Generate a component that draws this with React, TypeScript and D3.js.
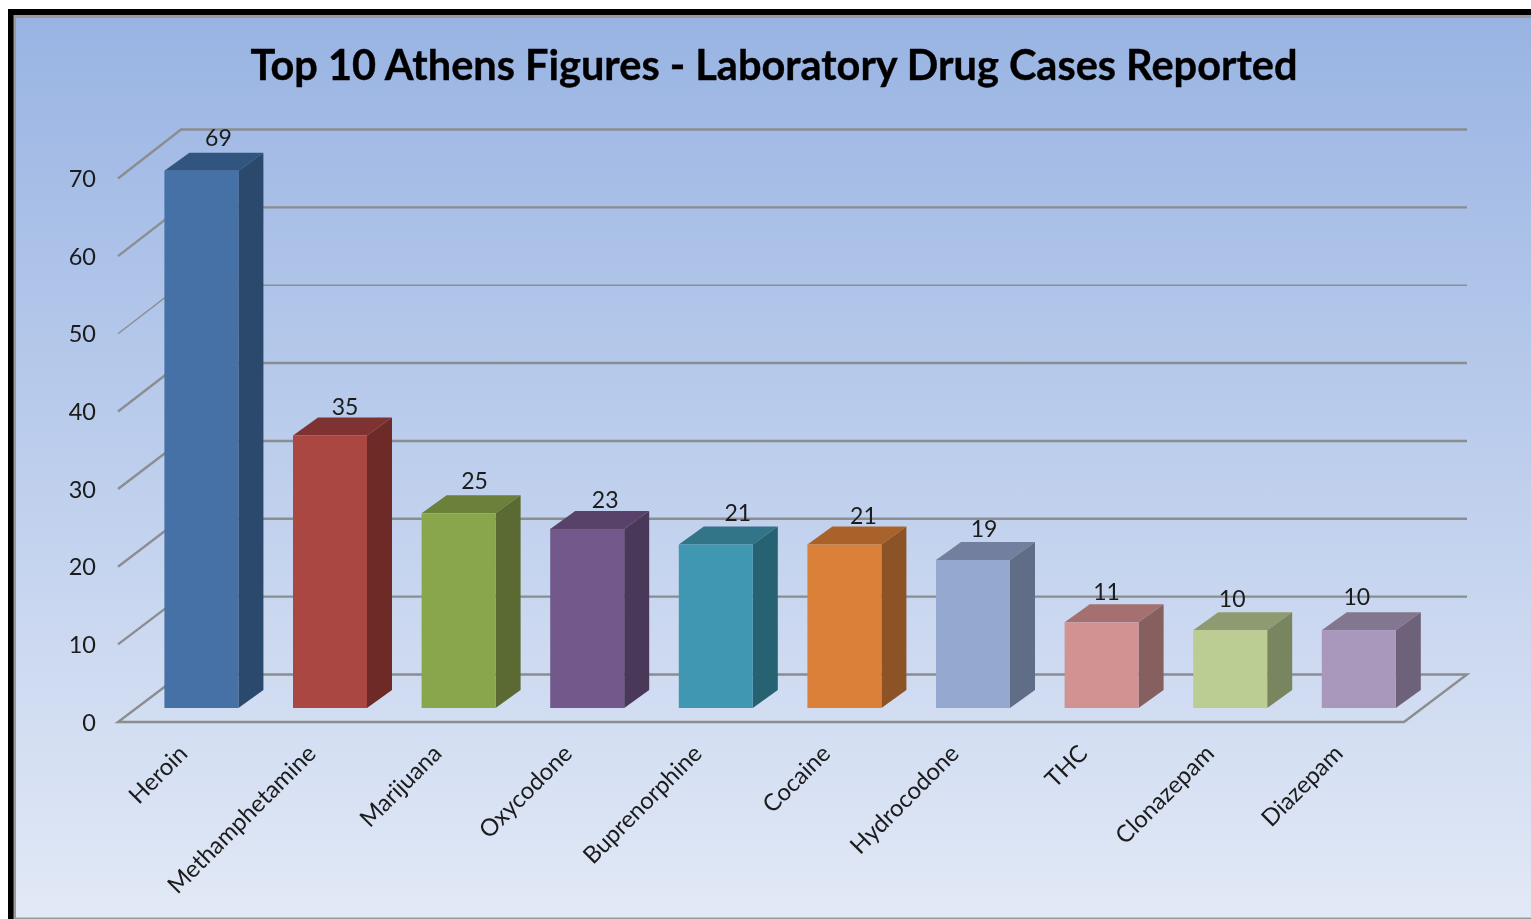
import React from "react";
import * as d3 from "d3";

const categories = ["Heroin","Methamphetamine","Marijuana","Oxycodone","Buprenorphine","Cocaine","Hydrocodone","THC","Clonazepam","Diazepam"];
const values = [69,35,25,23,21,21,19,11,10,10];
const yTicks = [0,10,20,30,40,50,60,70];
const frontColors = ["#4471a6","#ab4642","#8aa64e","#73588c","#4197b2","#db8039","#94a8d0","#d29291","#bccd93","#a998bc"];
const sideColors = ["#2c486c","#6e2a28","#5a6b31","#4a3859","#276272","#8c5225","#606d87","#85605e","#78855f","#6d627a"];
const topColors = ["#33547f","#7f3230","#6b803a","#594369","#307488","#a9632b","#727f9f","#a57170","#8e9b70","#837790"];
const labelNudgeY = [-1,2.5,-1,3,0,2.5,0,1,0,-2];
const labelNudgeX = [0,-2,-1,1,5,2,-6,-12,-15,-19];
const catNudgeX = [0,0,-3,-1,0,0,0,0,-2,-2];

const FONT = "Lato, 'Open Sans', sans-serif";
const W = 1531, H = 919;
const yFront = d3.scaleLinear().domain([0,70]).range([722,178.5]);
const yBack = d3.scaleLinear().domain([0,70]).range([674.5,129.5]);
const yBar = d3.scaleLinear().domain([0,70]).range([708,163]);
const x = d3.scaleBand<string>().domain(categories).range([118,1404]);
const FLOOR_DX = 63, DEPTH_X = 25, DEPTH_Y = 18, BAR_W = 74, BAR_OFF = 46.4;
const GRID = "#8b8d90";

export default function App() {
  const poly = (pts: number[][]) => pts.map(p => p.join(",")).join(" ");
  return (
    <svg width={W} height={H} style={{position:"absolute",left:0,top:0,display:"block"}} fontFamily={FONT}>
      <defs>
        <linearGradient id="bg" x1="0" y1="0" x2="0" y2="1">
          <stop offset="0" stopColor="#99b4e3"/>
          <stop offset="1" stopColor="#e2e9f6"/>
        </linearGradient>
        <filter id="soft" x="-5%" y="-5%" width="110%" height="110%"><feGaussianBlur stdDeviation="0.5"/></filter>
      </defs>
      <rect width={W} height={H} fill="#fff"/>
      <rect x={8} y={9} width={W-8} height={H-9} fill="#000"/>
      <rect x={13.5} y={15} width={W-13.5} height={H-15} fill="#9a9a9a"/>
      <rect x={16} y={18} width={W-16} height={H-18-1.5} fill="url(#bg)"/>
      <g filter="url(#soft)">
        <text x={774} y={80} textAnchor="middle" fontSize={41.5} fontWeight={700} fill="#000" stroke="#000" strokeWidth={0.4}>Top 10 Athens Figures - Laboratory Drug Cases Reported</text>

        <polygon points={poly([[x.range()[0],yFront(0)],[x.range()[1],yFront(0)],[x.range()[1]+FLOOR_DX,yBack(0)],[x.range()[0]+FLOOR_DX,yBack(0)]])} fill="none" stroke={GRID} strokeWidth={2.4}/>
        {yTicks.map(t => (
          <g key={t}>
            {t>0 && <polyline points={poly([[118,yFront(t)],[118+FLOOR_DX,yBack(t)],[1467,yBack(t)]])} fill="none" stroke={GRID} strokeWidth={t===50?1.4:2.4}/>}
            <text x={96} y={yFront(t)+8.5} textAnchor="end" fontSize={23.5} fill="#1a1a1a">{t}</text>
          </g>
        ))}

        {categories.map((c,i) => {
          const l = x(c)! + BAR_OFF, r = l + BAR_W, b = yBar(0), t = yBar(values[i]);
          return (
            <g key={c}>
              <polygon points={poly([[l,t],[r,t],[r+DEPTH_X,t-DEPTH_Y],[l+DEPTH_X,t-DEPTH_Y]])} fill={topColors[i]}/>
              <polygon points={poly([[r,t],[r+DEPTH_X,t-DEPTH_Y],[r+DEPTH_X,b-DEPTH_Y],[r,b]])} fill={sideColors[i]}/>
              <rect x={l} y={t} width={BAR_W} height={b-t} fill={frontColors[i]}/>
              <text x={l+54+labelNudgeX[i]} y={t-23.5+labelNudgeY[i]} textAnchor="middle" fontSize={23} fill="#1a1a1a">{values[i]}</text>
              <text transform={`translate(${l+24.5+catNudgeX[i]},755) rotate(-45)`} textAnchor="end" fontSize={23.8} fill="#1a1a1a">{c}</text>
            </g>
          );
        })}
      </g>
    </svg>
  );
}
